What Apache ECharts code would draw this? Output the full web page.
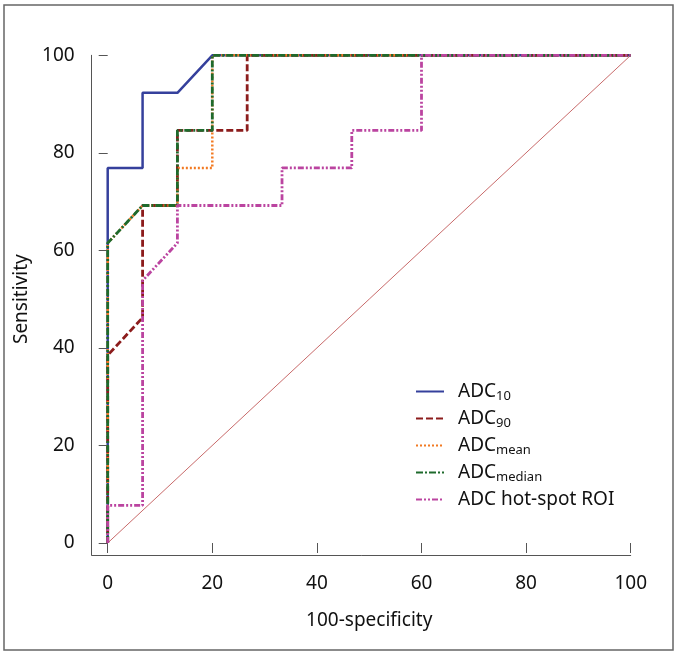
<!DOCTYPE html>
<html>
<head>
<meta charset="utf-8">
<script src="https://cdn.jsdelivr.net/npm/echarts@6/dist/echarts.min.js"></script>
<style>html,body{margin:0;padding:0;background:#fff}#c{width:678px;height:655px}</style>
</head>
<body>
<div id="c"></div>
<script>
// Data (x = 100-specificity, y = sensitivity)
const xTicks = [0, 20, 40, 60, 80, 100];
const yTicks = [0, 20, 40, 60, 80, 100];
const seriesNames = ['ADC10', 'ADC90', 'ADCmean', 'ADCmedian', 'ADC hot-spot ROI'];

const adc10X = [0, 0, 6.67, 6.67, 13.33, 20, 100];
const adc10Y = [0, 76.9, 76.9, 92.3, 92.3, 100, 100];

const adc90X = [0, 0, 6.67, 6.67, 13.33, 13.33, 26.67, 26.67, 100];
const adc90Y = [0, 38.5, 46.2, 69.2, 69.2, 84.6, 84.6, 100, 100];

const adcMeanX = [0, 0, 6.67, 13.33, 13.33, 20, 20, 100];
const adcMeanY = [0, 61.5, 69.2, 69.2, 76.9, 76.9, 100, 100];

const adcMedianX = [0, 0, 6.67, 13.33, 13.33, 20, 20, 100];
const adcMedianY = [0, 61.5, 69.2, 69.2, 84.6, 84.6, 100, 100];

const hotSpotX = [0, 0, 6.67, 6.67, 13.33, 13.33, 33.33, 33.33, 46.67, 46.67, 60, 60, 100];
const hotSpotY = [0, 7.7, 7.7, 53.8, 61.5, 69.2, 69.2, 76.9, 76.9, 84.6, 84.6, 100, 100];

const diagX = [0, 100];
const diagY = [0, 100];

function pairs(xs, ys) { return xs.map((x, i) => [x, ys[i]]); }

const FONT = 'Noto Sans';
const chart = echarts.init(document.getElementById('c'), null, {renderer: 'canvas'});

const legendRich = {
  m: {fontFamily: FONT, fontSize: 19, color: '#111', padding: [0, 0, 0, 9]},
  s: {fontFamily: FONT, fontSize: 13, color: '#111', padding: [9, 0, 0, 0]}
};
const legendLabel = {
  'ADC10': '{m|ADC}{s|10}',
  'ADC90': '{m|ADC}{s|90}',
  'ADCmean': '{m|ADC}{s|mean}',
  'ADCmedian': '{m|ADC}{s|median}',
  'ADC hot-spot ROI': '{m|ADC hot-spot ROI}'
};

function lineSeries(name, xs, ys, color, type, width) {
  return {
    name: name, type: 'line', xAxisIndex: 0, yAxisIndex: 0,
    data: pairs(xs, ys), symbol: 'none', animation: false,
    lineStyle: {color: color, width: width, type: type, cap: 'butt'},
    itemStyle: {color: color}
  };
}

const option = {
  animation: false,
  backgroundColor: '#fff',
  graphic: [{
    type: 'rect', shape: {x: 4, y: 5, width: 669, height: 645},
    style: {fill: 'none', stroke: '#666', lineWidth: 1.5}, silent: true
  }],
  grid: [
    {left: 107.7, right: 47.3, top: 55.3, bottom: 112},
    {left: 91.7, right: 47.3, top: 55.3, bottom: 100}
  ],
  legend: {
    data: seriesNames,
    orient: 'vertical',
    left: 415, top: 382, padding: 0,
    itemWidth: 28, itemHeight: 14, itemGap: 6.5,
    itemStyle: {opacity: 0, borderWidth: 0},
    formatter: n => legendLabel[n],
    textStyle: {rich: legendRich, fontFamily: FONT, fontSize: 19}
  },
  xAxis: [{
    type: 'value', gridIndex: 0, min: 0, max: 100, interval: 20, offset: 12,
    name: '100-specificity', nameLocation: 'middle', nameGap: 56,
    nameTextStyle: {fontFamily: FONT, fontSize: 19, color: '#111'},
    axisLine: {show: false},
    axisTick: {show: true, length: 10, lineStyle: {color: '#555', width: 1}},
    axisLabel: {fontFamily: FONT, fontSize: 19, color: '#111', margin: 19},
    splitLine: {show: false}
  }, {
    type: 'value', gridIndex: 1, min: 0, max: 1, show: true,
    axisLine: {show: true, lineStyle: {color: '#555', width: 1}},
    axisTick: {show: false}, axisLabel: {show: false}, splitLine: {show: false}
  }],
  yAxis: [{
    type: 'value', gridIndex: 0, min: 0, max: 100, interval: 20, offset: 16,
    name: 'Sensitivity', nameLocation: 'middle', nameGap: 60,
    nameTextStyle: {fontFamily: FONT, fontSize: 19, color: '#111'},
    axisLine: {show: false},
    axisTick: {show: true, length: 9, lineStyle: {color: '#555', width: 1}},
    axisLabel: {fontFamily: FONT, fontSize: 19, color: '#111', margin: 17},
    splitLine: {show: false}
  }, {
    type: 'value', gridIndex: 1, min: 0, max: 1, show: true,
    axisLine: {show: true, lineStyle: {color: '#555', width: 1}},
    axisTick: {show: false}, axisLabel: {show: false}, splitLine: {show: false}
  }],
  series: [
    {
      name: 'diagonal', type: 'line', data: pairs(diagX, diagY), symbol: 'none',
      lineStyle: {color: '#c86a6a', width: 1}, silent: true
    },
    lineSeries('ADC10', adc10X, adc10Y, '#35409c', 'solid', 2.5),
    lineSeries('ADC90', adc90X, adc90Y, '#8c1c1c', [7, 3], 2.8),
    lineSeries('ADCmean', adcMeanX, adcMeanY, '#f27a22', [2, 2], 2.5),
    lineSeries('ADCmedian', adcMedianX, adcMedianY, '#1e6a2c', [7, 2, 2, 2], 2.8),
    lineSeries('ADC hot-spot ROI', hotSpotX, hotSpotY, '#bb44a0', [6, 2, 2, 2, 2, 2], 2.8)
  ]
};
chart.setOption(option);
</script>
</body>
</html>
